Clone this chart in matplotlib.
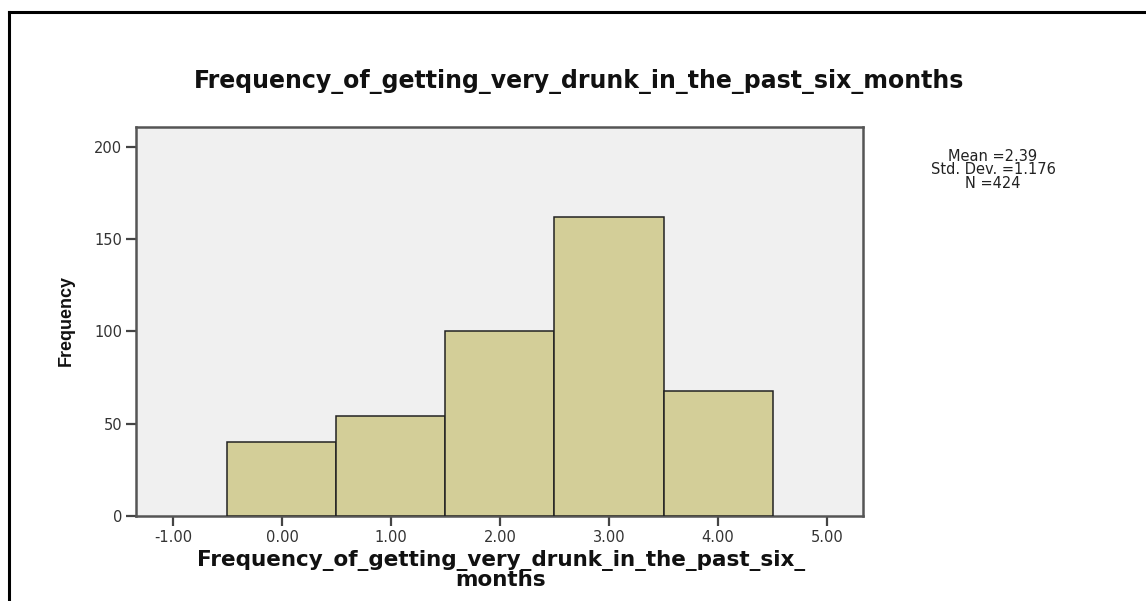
import matplotlib
matplotlib.use("Agg")
import matplotlib.pyplot as plt
from matplotlib.lines import Line2D

values = [0, 1, 2, 3, 4]
counts = [40, 54, 100, 162, 68]
xticks = [-1, 0, 1, 2, 3, 4, 5]
xtick_labels = ["-1.00", "0.00", "1.00", "2.00", "3.00", "4.00", "5.00"]
yticks = [0, 50, 100, 150, 200]
title = "Frequency_of_getting_very_drunk_in_the_past_six_months"
xlabel = "Frequency_of_getting_very_drunk_in_the_past_six_\nmonths"
ylabel = "Frequency"
stats = "Mean =2.39\nStd. Dev. =1.176\nN =424"

plt.rcParams['font.family'] = ['DejaVu Sans']

W, H = 1146, 601
fig = plt.figure(figsize=(W / 100, H / 100), dpi=100)
fig.patch.set_facecolor("white")

# frame lines (left and top)
fig.add_artist(Line2D([9 / W, 9 / W], [0, 1 - 12 / H], color="black", lw=2.2))
fig.add_artist(Line2D([9 / W, 1], [1 - 12 / H, 1 - 12 / H], color="black", lw=2.2))

ax = fig.add_axes([136 / W, (H - 516) / H, 727 / W, 389 / H])
ax.set_facecolor("#F0F0F0")
ax.bar(values, counts, width=1.0, color="#D3CE98", edgecolor="#222222", linewidth=1.1, zorder=3)

ax.set_xlim(-1.339, 5.33)
ax.set_ylim(0, 210.8)
ax.set_xticks(xticks)
ax.set_xticklabels(xtick_labels)
ax.set_yticks(yticks)
for s in ax.spines.values():
    s.set_color("#555555")
    s.set_linewidth(1.8)
ax.tick_params(axis="both", direction="out", length=7, width=1.6, color="#444444",
               labelsize=10.5, labelcolor="#333333", pad=3)

fig.text(579 / W, 1 - 82 / H, title, ha="center", va="center",
         fontsize=17, fontweight="bold", color="#111111")
fig.text(501 / W, 1 - 570 / H, xlabel, ha="center", va="center", fontsize=15.5,
         fontweight="bold", color="#111111", linespacing=0.95)
fig.text(66 / W, 1 - 321 / H, ylabel, ha="center", va="center", rotation=90,
         fontsize=13, fontweight="bold", color="#111111",
         family=['Liberation Sans Narrow', 'Liberation Sans', 'DejaVu Sans'])
fig.text(993 / W, 1 - 170 / H, stats, ha="center", va="center", fontsize=10.5,
         color="#222222", linespacing=0.88)

fig.savefig("out.png", dpi=100)
